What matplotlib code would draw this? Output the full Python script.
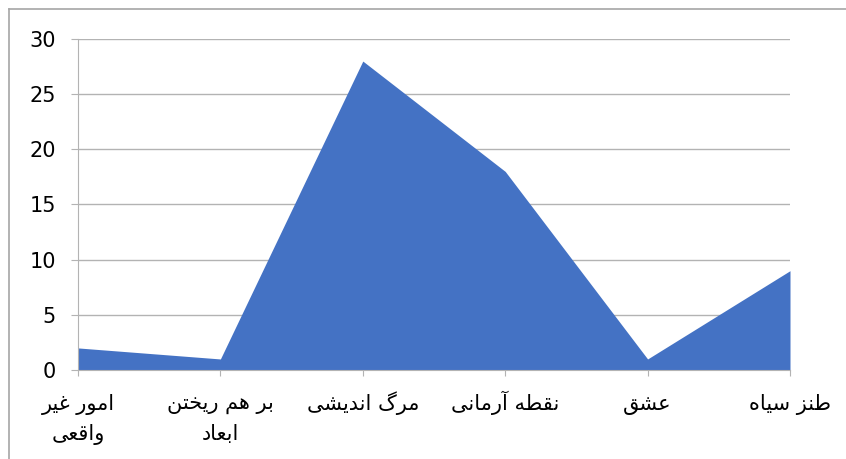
import matplotlib
matplotlib.use('Agg')
import matplotlib.pyplot as plt
from matplotlib.lines import Line2D

categories = ['امور غیر\nواقعی', 'بر هم ریختن\nابعاد', 'مرگ اندیشی',
              'نقطه آرمانی', 'عشق', 'طنز سیاه']
values = [2, 1, 28, 18, 1, 9]
yticks = [0, 5, 10, 15, 20, 25, 30]

# presentation forms: isolated, final, initial, medial
FORMS = {
    'ا': ('\uFE8D', '\uFE8E'), 'آ': ('\uFE81', '\uFE82'),
    'د': ('\uFEA9', '\uFEAA'), 'ر': ('\uFEAD', '\uFEAE'),
    'ز': ('\uFEAF', '\uFEB0'), 'و': ('\uFEED', '\uFEEE'),
    'ب': ('\uFE8F', '\uFE90', '\uFE91', '\uFE92'),
    'ت': ('\uFE95', '\uFE96', '\uFE97', '\uFE98'),
    'خ': ('\uFEA5', '\uFEA6', '\uFEA7', '\uFEA8'),
    'س': ('\uFEB1', '\uFEB2', '\uFEB3', '\uFEB4'),
    'ش': ('\uFEB5', '\uFEB6', '\uFEB7', '\uFEB8'),
    'ط': ('\uFEC1', '\uFEC2', '\uFEC3', '\uFEC4'),
    'ع': ('\uFEC9', '\uFECA', '\uFECB', '\uFECC'),
    'غ': ('\uFECD', '\uFECE', '\uFECF', '\uFED0'),
    'ق': ('\uFED5', '\uFED6', '\uFED7', '\uFED8'),
    'م': ('\uFEE1', '\uFEE2', '\uFEE3', '\uFEE4'),
    'ن': ('\uFEE5', '\uFEE6', '\uFEE7', '\uFEE8'),
    'ه': ('\uFEE9', '\uFEEA', '\uFEEB', '\uFEEC'),
    'ی': ('\uFBFC', '\uFBFD', '\uFBFE', '\uFBFF'),
    'گ': ('\uFB92', '\uFB93', '\uFB94', '\uFB95'),
}


def shape_line(s):
    out = []
    for i, c in enumerate(s):
        if c not in FORMS:
            out.append(c)
            continue
        prev = s[i - 1] if i > 0 else ''
        nxt = s[i + 1] if i + 1 < len(s) else ''
        jp = prev in FORMS and len(FORMS[prev]) == 4
        jn = len(FORMS[c]) == 4 and nxt in FORMS
        f = FORMS[c]
        if jp and jn:
            out.append(f[3])
        elif jp:
            out.append(f[1])
        elif jn:
            out.append(f[2])
        else:
            out.append(f[0])
    return ''.join(out)[::-1]


blue = '#4472C4'
grid = '#b3b3b3'

fig = plt.figure(figsize=(8.46, 4.59), dpi=100)
ax = fig.add_axes([78 / 846, 89 / 459, 712 / 846, 331 / 459])

x = list(range(len(values)))
ax.fill_between(x, values, 0, color=blue, linewidth=0)
ax.set_xlim(0, len(values) - 1)
ax.set_ylim(0, 30)
ax.set_yticks(yticks)
ax.set_xticks(x)
ax.set_xticklabels([])
# category labels, one text per line on a common baseline
for xi, c in zip(x, categories):
    for k, line in enumerate(c.split('\n')):
        ax.annotate(shape_line(line), xy=(xi, 0), xycoords=('data', 'axes fraction'),
                    xytext=(0, -40 - 30 * k), textcoords='offset pixels',
                    ha='center', va='baseline', fontsize=15,
                    family=['DejaVu Sans'], annotation_clip=False)
ax.set_yticklabels([str(t) for t in yticks], fontsize=15, family='DejaVu Sans')
ax.grid(axis='y', color=grid, linewidth=1)
ax.set_axisbelow(True)
for s in ['top', 'right']:
    ax.spines[s].set_visible(False)
ax.spines['left'].set_color(grid)
ax.spines['bottom'].set_color(grid)
ax.tick_params(axis='y', length=5, color=grid, pad=11)
ax.tick_params(axis='x', length=4.5, color=grid)

# chart frame (only top and left visible)
fig.add_artist(Line2D([9 / 846, 1.1], [450 / 459, 450 / 459], color='#a6a6a6', lw=1.2))
fig.add_artist(Line2D([9 / 846, 9 / 846], [-0.1, 450 / 459], color='#a6a6a6', lw=1.2))

fig.savefig('out.png', dpi=100)
